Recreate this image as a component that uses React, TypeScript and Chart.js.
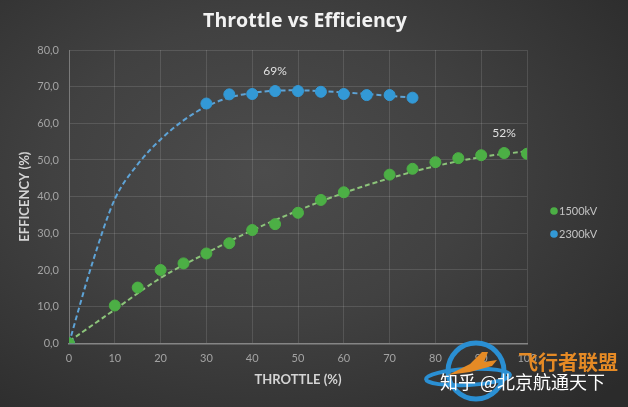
import React, { useEffect, useRef } from "react";
import { Chart, registerables } from "chart.js";

Chart.register(...registerables);

const throttle1500 = [0, 10, 15, 20, 25, 30, 35, 40, 45, 50, 55, 60, 70, 75, 80, 85, 90, 95, 100];
const eff1500 = [0, 10.3, 15.2, 20.0, 21.8, 24.5, 27.3, 30.9, 32.5, 35.6, 39.1, 41.2, 46.0, 47.6, 49.4, 50.5, 51.3, 51.9, 51.7];

const throttle2300 = [0, 30, 35, 40, 45, 50, 55, 60, 65, 70, 75];
const eff2300 = [0, 65.4, 67.9, 68.0, 68.8, 68.8, 68.6, 68.0, 67.7, 67.7, 67.0];

// Trendlines
const trend1500X = [0, 10, 20, 30, 40, 50, 60, 70, 80, 90, 100];
const trend1500Y = [0.5, 9.2, 17.8, 24.6, 30.8, 36.2, 41.0, 45.0, 48.3, 50.8, 52.4];
const trend2300X = [0, 5, 10, 15, 20, 25, 30, 35, 40, 45, 50, 55, 60, 65, 70, 75];
const trend2300Y = [0, 21.5, 39.3, 48.8, 55.6, 60.8, 64.6, 67, 68.3, 68.9, 69, 68.8, 68.4, 68, 67.5, 67];

const seriesNames = ["1500kV", "2300kV"];
const peakLabels = ["52%", "69%"];
const peakAtX = [95, 45];

const xTicks = { min: 0, max: 100, step: 10 };
const yTicks = { min: 0, max: 80, step: 10 };

const GREEN = "#4caf45";
const BLUE = "#3399d6";
const FONT = "Lato, 'Open Sans', sans-serif";

const toPts = (xs: number[], ys: number[]) => xs.map((x, i) => ({ x, y: ys[i] }));

export default function App() {
  const ref = useRef<HTMLCanvasElement | null>(null);

  useEffect(() => {
    const canvas = ref.current;
    if (!canvas) return;

    const overlay = {
      id: "overlay",
      afterDraw(chart: any) {
        const ctx = chart.ctx as CanvasRenderingContext2D;
        const xs = chart.scales.x;
        const ys = chart.scales.y;
        const ca = chart.chartArea;
        ctx.save();
        // title
        ctx.fillStyle = "#f2f2f2";
        ctx.font = `bold 19.5px 'Open Sans', sans-serif`;
        ctx.textAlign = "center";
        ctx.textBaseline = "middle";
        ctx.fillText("Throttle vs Efficiency", 305, 21);
        // axis titles
        ctx.fillStyle = "#d4d4d4";
        ctx.font = `bold 13px ${FONT}`;
        ctx.fillText("THROTTLE (%)", (ca.left + ca.right) / 2, 380);
        ctx.save();
        ctx.translate(25, (ca.top + ca.bottom) / 2);
        ctx.rotate(-Math.PI / 2);
        ctx.fillText("EFFICENCY (%)", 0, 0);
        ctx.restore();
        // peak labels
        ctx.fillStyle = "#e0e0e0";
        ctx.font = `12px ${FONT}`;
        const seriesX = [throttle1500, throttle2300];
        const seriesY = [eff1500, eff2300];
        peakLabels.forEach((lab, i) => {
          const idx = seriesX[i].indexOf(peakAtX[i]);
          const px = xs.getPixelForValue(peakAtX[i]);
          const py = ys.getPixelForValue(seriesY[i][idx]);
          ctx.fillText(lab, px, py - 20);
        });
        // legend
        const colors = [GREEN, BLUE];
        ctx.font = `11px ${FONT}`;
        ctx.textAlign = "left";
        seriesNames.forEach((n, i) => {
          const y = 211 + i * 23;
          ctx.fillStyle = colors[i];
          ctx.beginPath();
          ctx.arc(554, y, 3.8, 0, Math.PI * 2);
          ctx.fill();
          ctx.fillStyle = "#c4c4c4";
          ctx.fillText(n, 559, y);
        });
        // watermark
        ctx.strokeStyle = "#2a8fd3";
        ctx.lineWidth = 5;
        ctx.beginPath();
        ctx.arc(476, 371, 28, 0, Math.PI * 2);
        ctx.stroke();
        ctx.lineWidth = 4;
        ctx.beginPath();
        ctx.ellipse(468, 377, 42, 8, -0.05, 0, Math.PI * 2);
        ctx.stroke();
        ctx.fillStyle = "#e58a25";
        ctx.beginPath();
        ctx.moveTo(448, 375);
        ctx.lineTo(470, 364);
        ctx.lineTo(482, 352);
        ctx.lineTo(488, 352);
        ctx.lineTo(484, 362);
        ctx.lineTo(497, 360);
        ctx.lineTo(492, 366);
        ctx.lineTo(470, 372);
        ctx.closePath();
        ctx.fill();
        ctx.font = `bold 20px 'Noto Sans CJK SC', sans-serif`;
        ctx.fillStyle = "#e58a25";
        ctx.fillText("飞行者联盟", 518, 362);
        ctx.font = `18px 'Noto Sans CJK SC', sans-serif`;
        ctx.fillStyle = "#ffffff";
        ctx.fillText("知乎 @北京航通天下", 440, 382);
        ctx.restore();
      },
    };

    const chart = new Chart(canvas, {
      type: "scatter",
      data: {
        datasets: [
          {
            label: seriesNames[0],
            data: toPts(throttle1500, eff1500),
            backgroundColor: GREEN,
            borderColor: GREEN,
            pointRadius: 5.5,
            pointHoverRadius: 5.5,
            order: 1,
          },
          {
            label: seriesNames[1],
            data: toPts(throttle2300, eff2300),
            backgroundColor: BLUE,
            borderColor: BLUE,
            pointRadius: 5.5,
            pointHoverRadius: 5.5,
            order: 1,
          },
          {
            label: "trend1500",
            data: toPts(trend1500X, trend1500Y),
            showLine: true,
            borderColor: "#8cc47a",
            borderWidth: 2,
            borderDash: [5, 3],
            pointRadius: 0,
            tension: 0.4,
            order: 2,
          },
          {
            label: "trend2300",
            data: toPts(trend2300X, trend2300Y),
            showLine: true,
            borderColor: "#5ea3d6",
            borderWidth: 2,
            borderDash: [5, 3],
            pointRadius: 0,
            cubicInterpolationMode: "monotone",
            order: 2,
          },
        ] as any,
      },
      options: {
        responsive: false,
        animation: false,
        devicePixelRatio: 1,
        layout: { padding: { top: 50, right: 101, left: 0, bottom: 0 } },
        plugins: { legend: { display: false }, tooltip: { enabled: false }, title: { display: false } },
        scales: {
          x: {
            type: "linear",
            min: xTicks.min,
            max: xTicks.max,
            afterFit: (s: any) => {
              s.height = 63.7;
            },
            ticks: {
              stepSize: xTicks.step,
              color: "#a3a3a3",
              font: { family: FONT, size: 11 },
              padding: 9,
            },
            grid: { color: "rgba(255,255,255,0.12)", drawTicks: false },
            border: { color: "#858585", width: 1.5 },
          },
          y: {
            type: "linear",
            min: yTicks.min,
            max: yTicks.max,
            afterFit: (s: any) => {
              s.width = 69;
            },
            ticks: {
              stepSize: yTicks.step,
              color: "#a3a3a3",
              font: { family: FONT, size: 11 },
              padding: 10,
              callback: (v: any) => Number(v).toFixed(1).replace(".", ","),
            },
            grid: { color: "rgba(255,255,255,0.12)", drawTicks: false },
            border: { color: "#7a7a7a", width: 1 },
          },
        },
      } as any,
      plugins: [overlay],
    });
    return () => chart.destroy();
  }, []);

  return (
    <div
      style={{
        position: "fixed",
        left: 0,
        top: 0,
        width: 628,
        height: 407,
        background:
          "radial-gradient(ellipse 75% 80% at 42% 42%, #4c4c4c 0%, #414141 45%, #2b2b2b 100%)",
      }}
    >
      <canvas ref={ref} width={628} height={407} style={{ display: "block", width: 628, height: 407 }} />
    </div>
  );
}
